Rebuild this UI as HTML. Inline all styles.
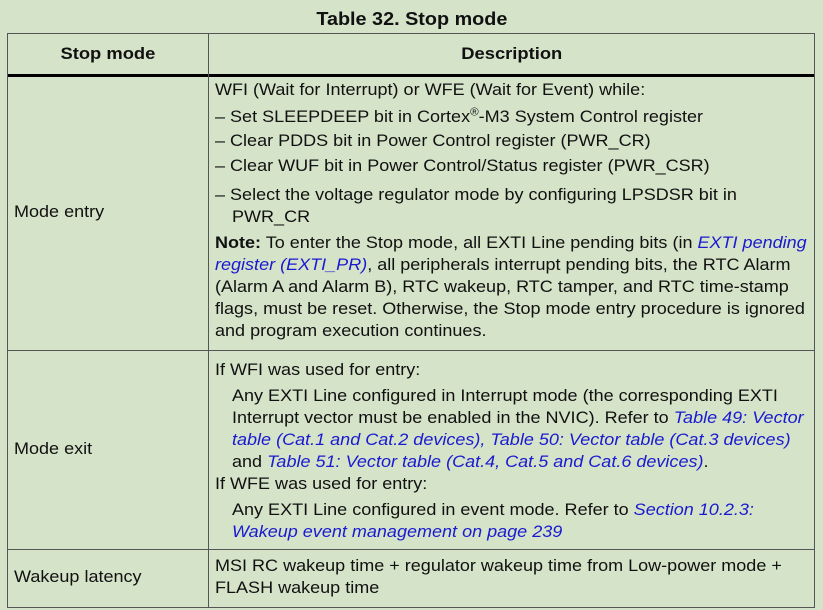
<!DOCTYPE html>
<html><head><meta charset="utf-8"><style>
body{margin:0;width:823px;height:610px;background:#d5e3c9;position:relative;overflow:hidden;font-family:"Liberation Sans",Arial,sans-serif;color:#111;}
.t{position:absolute;font-size:17px;line-height:22px;white-space:nowrap;transform:scaleX(1.06);transform-origin:0 50%;}
.c{position:absolute;line-height:22px;white-space:nowrap;text-align:center;font-weight:bold}
.c span{display:inline-block;transform:scaleX(1.08)}
.b{font-weight:bold}
.l{color:#1a1ad0;font-style:italic}
.h{position:absolute;background:#555;}
sup{font-size:11px;line-height:0}
</style></head><body>
<div class="c" style="left:0;width:823px;top:8px;font-size:18px"><span style="transform:scaleX(1.1)">Table 32. Stop mode</span></div>
<div class="h" style="left:7px;top:33px;width:808px;height:1px"></div>
<div class="h" style="left:7px;top:74px;width:808px;height:3px;background:#000"></div>
<div class="h" style="left:7px;top:350px;width:808px;height:1px"></div>
<div class="h" style="left:7px;top:549px;width:808px;height:1px"></div>
<div class="h" style="left:7px;top:607px;width:808px;height:1px"></div>
<div class="h" style="left:7px;top:33px;width:1px;height:575px"></div>
<div class="h" style="left:208px;top:33px;width:1px;height:575px"></div>
<div class="h" style="left:814px;top:33px;width:1px;height:575px"></div>
<div class="c" style="left:8px;width:200px;top:43px;font-size:17px"><span>Stop mode</span></div>
<div class="c" style="left:209px;width:605px;top:43px;font-size:17px"><span>Description</span></div>
<div class="t" style="left:14px;top:201px">Mode entry</div>
<div class="t" style="left:14px;top:438px">Mode exit</div>
<div class="t" style="left:14px;top:566px">Wakeup latency</div>
<div class="t" style="left:215px;top:79px">WFI (Wait for Interrupt) or WFE (Wait for Event) while:</div>
<div class="t" style="left:215px;top:106px">– Set SLEEPDEEP bit in Cortex<sup>®</sup>-M3 System Control register</div>
<div class="t" style="left:215px;top:130px">– Clear PDDS bit in Power Control register (PWR_CR)</div>
<div class="t" style="left:215px;top:155px">– Clear WUF bit in Power Control/Status register (PWR_CSR)</div>
<div class="t" style="left:215px;top:184px">– Select the voltage regulator mode by configuring LPSDSR bit in</div>
<div class="t" style="left:232px;top:206px">PWR_CR</div>
<div class="t" style="left:215px;top:232px"><b>Note:</b> To enter the Stop mode, all EXTI Line pending bits (in <span class="l">EXTI pending</span></div>
<div class="t" style="left:215px;top:254px"><span class="l">register (EXTI_PR)</span>, all peripherals interrupt pending bits, the RTC Alarm</div>
<div class="t" style="left:215px;top:276px">(Alarm A and Alarm B), RTC wakeup, RTC tamper, and RTC time-stamp</div>
<div class="t" style="left:215px;top:298px">flags, must be reset. Otherwise, the Stop mode entry procedure is ignored</div>
<div class="t" style="left:215px;top:320px">and program execution continues.</div>
<div class="t" style="left:215px;top:359px">If WFI was used for entry:</div>
<div class="t" style="left:232px;top:385px">Any EXTI Line configured in Interrupt mode (the corresponding EXTI</div>
<div class="t" style="left:232px;top:407px">Interrupt vector must be enabled in the NVIC). Refer to <span class="l">Table 49: Vector</span></div>
<div class="t" style="left:232px;top:429px"><span class="l">table (Cat.1 and Cat.2 devices), Table 50: Vector table (Cat.3 devices)</span></div>
<div class="t" style="left:232px;top:451px">and <span class="l">Table 51: Vector table (Cat.4, Cat.5 and Cat.6 devices)</span>.</div>
<div class="t" style="left:215px;top:473px">If WFE was used for entry:</div>
<div class="t" style="left:232px;top:499px">Any EXTI Line configured in event mode. Refer to <span class="l">Section 10.2.3:</span></div>
<div class="t" style="left:232px;top:521px"><span class="l">Wakeup event management on page 239</span></div>
<div class="t" style="left:215px;top:555px">MSI RC wakeup time + regulator wakeup time from Low-power mode +</div>
<div class="t" style="left:215px;top:577px">FLASH wakeup time</div>
</body></html>
